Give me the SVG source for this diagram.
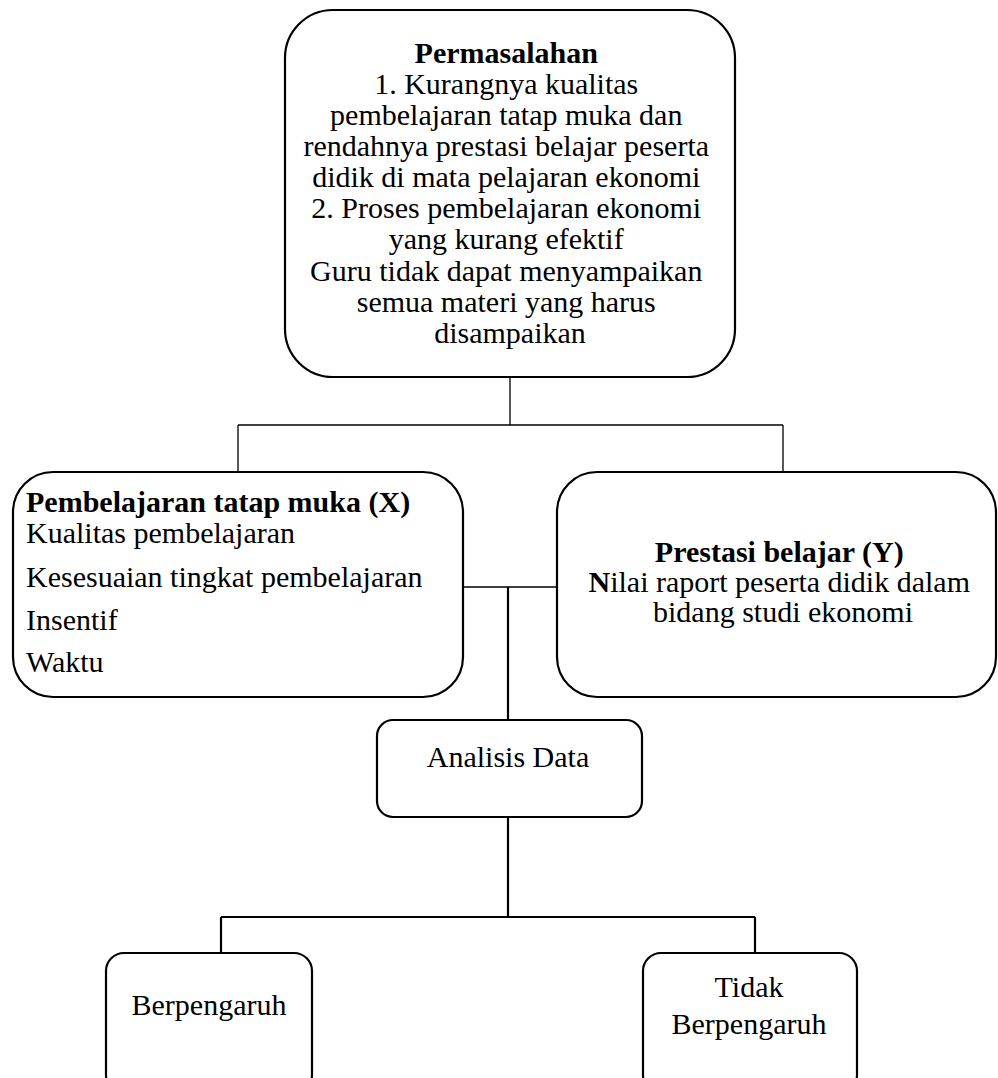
<svg xmlns="http://www.w3.org/2000/svg" width="998" height="1078" viewBox="0 0 998 1078">
<style>
.box{fill:#fff;stroke:#000;stroke-width:2.2}
.t{font-family:"Liberation Serif","Times New Roman",serif;font-size:30px;fill:#000}
.c{text-anchor:middle}
.b{font-weight:bold}
.thin{stroke:#000;stroke-width:1.3;fill:none}
.thick{stroke:#000;stroke-width:2.2;fill:none}
</style>
<rect width="998" height="1078" fill="#fff"/>
<g id="connectors">
<path class="thin" d="M510 377V425M238 425H783M238 425V472M783 425V472M463 587H557"/>
<path class="thick" d="M508 587V720M508 817V917M221 917H755M221 917V953M755 917V953"/>
</g>
<g id="permasalahan">
<rect class="box" x="285" y="10" width="450" height="367" rx="48" ry="48"/>
<text class="t c" x="510">
<tspan class="b" x="510" y="63">Permasalahan</tspan>
<tspan x="510" y="94">1. Kurangnya kualitas</tspan>
<tspan x="510" y="125">pembelajaran tatap muka dan</tspan>
<tspan x="510" y="156">rendahnya prestasi belajar peserta</tspan>
<tspan x="510" y="187">didik di mata pelajaran ekonomi</tspan>
<tspan x="510" y="218">2. Proses pembelajaran ekonomi</tspan>
<tspan x="510" y="249">yang kurang efektif</tspan>
<tspan x="510" y="281">Guru tidak dapat menyampaikan</tspan>
<tspan x="510" y="312">semua materi yang harus</tspan>
<tspan x="510" y="343">disampaikan</tspan>
</text>
</g>
<g id="pembelajaran">
<rect class="box" x="13" y="472" width="450" height="225" rx="40" ry="40"/>
<text class="t">
<tspan class="b" x="26" y="512">Pembelajaran tatap muka (X)</tspan>
<tspan x="26" y="543">Kualitas pembelajaran</tspan>
<tspan x="26" y="587">Kesesuaian tingkat pembelajaran</tspan>
<tspan x="26" y="630">Insentif</tspan>
<tspan x="26" y="672">Waktu</tspan>
</text>
</g>
<g id="prestasi">
<rect class="box" x="557" y="472" width="439" height="225" rx="40" ry="40"/>
<text class="t c">
<tspan class="b" x="783" y="562">Prestasi belajar (Y)</tspan>
<tspan x="783" y="592"><tspan class="b">N</tspan>ilai raport peserta didik dalam</tspan>
<tspan x="783" y="622">bidang studi ekonomi</tspan>
</text>
</g>
<g id="analisis">
<rect class="box" x="377" y="720" width="265" height="97" rx="16" ry="16"/>
<text class="t c" x="508" y="767">Analisis Data</text>
</g>
<g id="berpengaruh">
<rect class="box" x="106" y="953" width="206" height="140" rx="18" ry="18"/>
<text class="t c" x="209" y="1015">Berpengaruh</text>
</g>
<g id="tidak">
<rect class="box" x="643" y="953" width="214" height="140" rx="18" ry="18"/>
<text class="t c"><tspan x="749" y="997">Tidak</tspan><tspan x="749" y="1034">Berpengaruh</tspan></text>
</g>
</svg>
